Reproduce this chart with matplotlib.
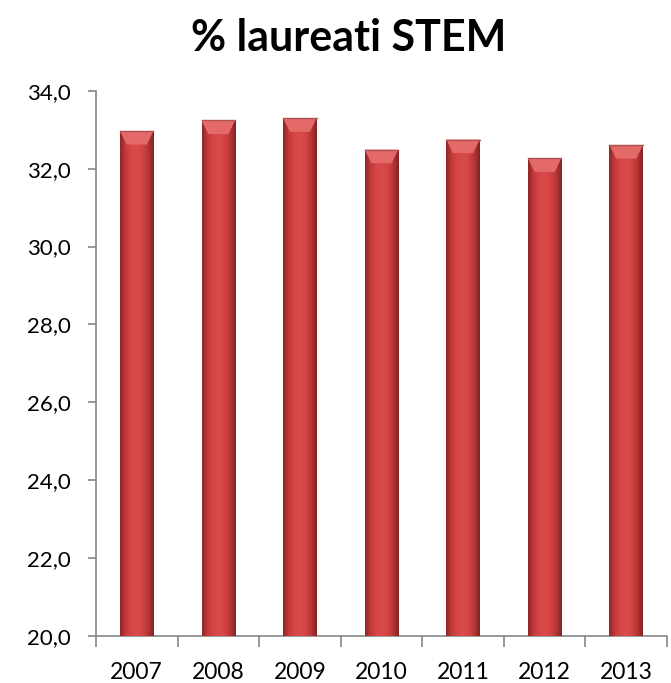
import numpy as np
import matplotlib.pyplot as plt
from matplotlib.colors import LinearSegmentedColormap
from matplotlib.ticker import FixedLocator, FuncFormatter

years = ['2007', '2008', '2009', '2010', '2011', '2012', '2013']
values = [32.97, 33.24, 33.30, 32.49, 32.75, 32.27, 32.61]
title = '% laureati STEM'

plt.rcParams['font.family'] = ['Lato', 'DejaVu Sans']

fig = plt.figure(figsize=(6.71, 6.83), dpi=100)
ax = fig.add_axes([0.143, 0.069, 0.851, 0.798])

x = np.arange(len(years))
bars = ax.bar(x, values, width=0.41, color='#d24242', edgecolor='none', zorder=2)

ax.set_xlim(-0.5, len(years) - 0.5)
ax.set_ylim(20, 34)

# horizontal shading across each bar to mimic the bevelled look
shade = LinearSegmentedColormap.from_list('shade', ['#8e2626', '#c23a3a', '#d64646', '#d94a4a', '#d44444', '#b83636', '#7e2222'])
grad = np.linspace(0, 1, 256).reshape(1, -1)
for b in bars:
    x0, w, h = b.get_x(), b.get_width(), b.get_height()
    im = ax.imshow(grad, cmap=shade, aspect='auto', extent=[x0, x0 + w, 20, h],
                   zorder=3, interpolation='bicubic')
    im.set_clip_path(b)
    # lighter bevel at the top
    tb = 0.35
    ax.fill([x0, x0 + w, x0 + w * 0.8, x0 + w * 0.2], [h, h, h - tb, h - tb],
            color='#e46a6a', zorder=4, lw=0)
    ax.plot([x0, x0 + w], [h, h], color='#b05050', lw=1, zorder=5)

ax.yaxis.set_major_locator(FixedLocator(np.arange(20, 34.1, 2)))
ax.yaxis.set_major_formatter(FuncFormatter(lambda v, p: f'{v:.1f}'.replace('.', ',')))
ax.set_xticks(x)
ax.set_xticklabels(years)
ax.xaxis.set_minor_locator(FixedLocator(np.arange(-0.5, len(years), 1)))

for s in ['top', 'right']:
    ax.spines[s].set_visible(False)
for s in ['left', 'bottom']:
    ax.spines[s].set_color('#868686')
    ax.spines[s].set_linewidth(1.2)

ax.tick_params(axis='y', length=6, width=1.2, color='#868686', labelsize=16, pad=12)
ax.tick_params(axis='x', which='major', length=0, labelsize=16.5, pad=19)
ax.tick_params(axis='x', which='minor', length=8, width=1.2, color='#868686')

fig.text(0.52, 0.944, title, ha='center', va='center', fontsize=31, fontweight='bold')

fig.savefig('out.png', dpi=100)
